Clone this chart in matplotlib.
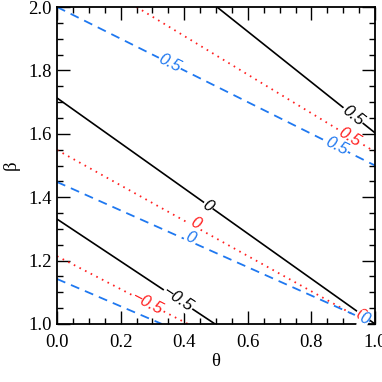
import numpy as np
import matplotlib
matplotlib.use("Agg")
import matplotlib.pyplot as plt

# contour levels and line end points (theta, beta) for each model
levels = [-0.5, 0.0, 0.5]

black_theta = [[0.0, 0.497], [0.0, 1.0], [0.503, 1.0]]
black_beta = [[1.331, 1.0], [1.713, 1.0], [2.0, 1.603]]
red_theta = [[0.0, 0.412], [0.0, 0.985], [0.25, 1.0]]
red_beta = [[1.214, 1.0], [1.549, 1.0], [2.0, 1.543]]
blue_theta = [[0.0, 0.33], [0.0, 1.0], [0.0, 1.0]]
blue_beta = [[1.142, 1.0], [1.448, 1.0], [2.0, 1.50]]

# contour label positions: (level index, theta, beta)
black_labels = [(0, 0.381, 1.078), (1, 0.475, 1.372), (2, 0.931, 1.658)]
red_labels = [(0, 0.286, 1.066), (1, 0.434, 1.319), (1, 0.955, 1.027), (2, 0.921, 1.589)]
blue_labels = [(1, 0.418, 1.271), (1, 0.966, 1.015), (2, 0.355, 1.823), (2, 0.88, 1.56)]

level_text = ["\u22120.5", "0", "0.5"]

plt.rcParams['font.family'] = ['Liberation Serif', 'DejaVu Serif']

fig = plt.figure(figsize=(3.82, 3.82), dpi=100)
ax = fig.add_axes([57 / 382, 1 - 324 / 382, 318 / 382, 317 / 382])
ax.set_xlim(0, 1)
ax.set_ylim(1, 2)

styles = [
    (black_theta, black_beta, black_labels, dict(color='black', lw=1.2, ls='-')),
    (red_theta, red_beta, red_labels, dict(color='#ff2020', lw=1.3, ls=(0, (0.9, 2.6)))),
    (blue_theta, blue_beta, blue_labels, dict(color='#1f78f0', lw=1.3, ls=(0, (5.0, 3.4)))),
]

for th, be, labs, st in styles:
    for i in range(len(levels)):
        ax.plot(th[i], be[i], **st)
    for i, x, y in labs:
        p0 = ax.transData.transform((th[i][0], be[i][0]))
        p1 = ax.transData.transform((th[i][1], be[i][1]))
        ang = np.degrees(np.arctan2(p1[1] - p0[1], p1[0] - p0[0]))
        ax.text(x, y, level_text[i], color=st['color'], fontsize=12,
                style='italic', family=['Liberation Sans', 'DejaVu Sans'],
                rotation=ang, rotation_mode='anchor', ha='center', va='center',
                bbox=dict(facecolor='white', edgecolor='none', pad=0.5), zorder=5)

ax.set_xticks(np.arange(0, 1.01, 0.2))
ax.set_yticks(np.arange(1, 2.01, 0.2))
ax.set_xticks(np.arange(0, 1.01, 0.05), minor=True)
ax.set_yticks(np.arange(1, 2.01, 0.05), minor=True)
ax.xaxis.set_major_formatter(matplotlib.ticker.FormatStrFormatter('%.1f'))
ax.yaxis.set_major_formatter(matplotlib.ticker.FormatStrFormatter('%.1f'))
ax.tick_params(which='both', direction='in', top=True, right=True, width=1.0, labelsize=13.5)
ax.tick_params(which='major', length=9.5)
ax.tick_params(which='minor', length=4.5)
ax.tick_params(axis='x', pad=7)
ax.tick_params(axis='y', pad=4)
for s in ax.spines.values():
    s.set_linewidth(1.3)

ax.set_xlabel("θ", fontsize=13.5, labelpad=2)
ax.set_ylabel("β", fontsize=13.5, labelpad=6)

fig.savefig("out.png", dpi=100)
